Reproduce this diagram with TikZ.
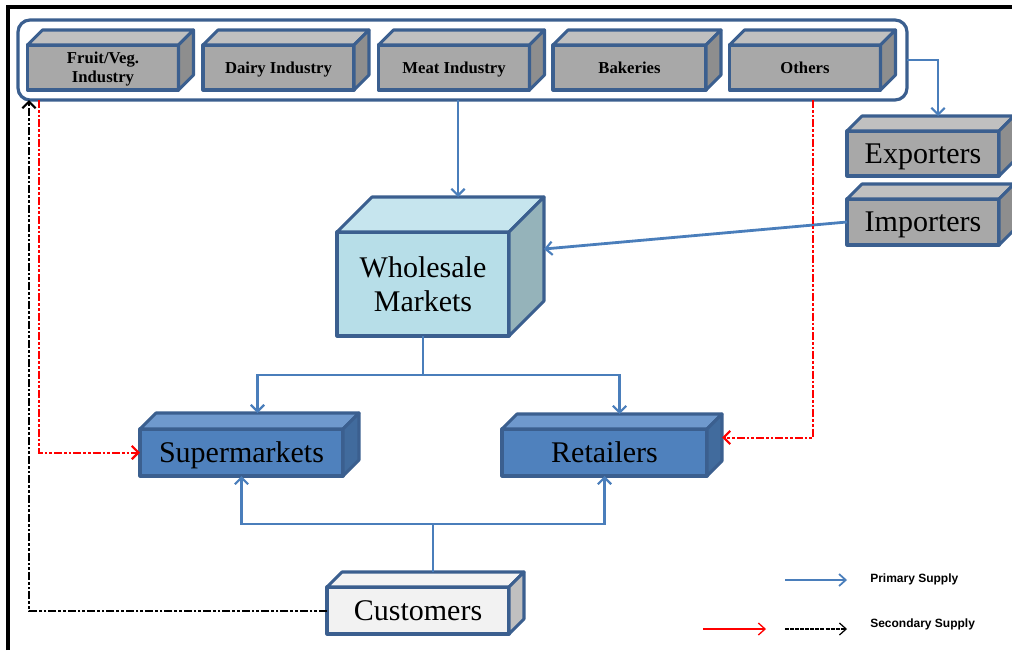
\documentclass[tikz,border=0pt]{standalone}
\usepackage{fontspec}
\setmainfont{Liberation Serif}
\newfontfamily\legfont{Liberation Sans}
\usetikzlibrary{arrows.meta,calc}
\definecolor{edge}{HTML}{3B5F8F}
\definecolor{conn}{HTML}{4A7EBB}
\definecolor{grayF}{HTML}{A8A8A8}
\definecolor{grayT}{HTML}{C0C0C0}
\definecolor{grayS}{HTML}{8E8E8E}
\definecolor{wsF}{HTML}{B7DEE8}
\definecolor{wsT}{HTML}{C6E5EE}
\definecolor{wsS}{HTML}{95B3BA}
\definecolor{blF}{HTML}{4F81BD}
\definecolor{blT}{HTML}{6F99CD}
\definecolor{blS}{HTML}{416B9D}
\definecolor{cuF}{HTML}{F2F2F2}
\definecolor{cuT}{HTML}{F4F4F4}
\definecolor{cuS}{HTML}{C0C0C0}
\tikzset{
  cube/.style={draw=edge, line width=2.3pt, inner sep=0pt, outer sep=0pt, align=center, line join=round},
  cubeedge/.style={draw=edge, line width=2.3pt, line join=round},
  small/.style={font=\fontsize{12.5}{14.25}\selectfont\bfseries},
  big/.style={font=\fontsize{22.5}{25.5}\selectfont},
  onesmall/.style={text height=8.4pt, text depth=0pt},
  onebig/.style={text height=14.9pt, text depth=0pt},
  pri/.style={draw=conn, line width=2.1pt},
  arr/.style={-{Straight Barb[length=5pt,width=10pt,line width=1.6pt]}},
  secred/.style={draw=red, line width=1.5pt, dash pattern=on 6pt off 1.5pt on 2pt off 1.5pt on 2pt off 1.5pt},
  secblk/.style={draw=black, line width=1.5pt, dash pattern=on 6pt off 1.5pt on 2pt off 1.5pt on 2pt off 1.5pt},
  legtext/.style={font=\legfont\fontsize{9}{10}\selectfont\bfseries, anchor=west, inner sep=0pt},
}
\newcommand\cubenode[8][]{%
  \node[cube,#1,fill=#2F,minimum width=#5*0.75pt,minimum height=#6*0.75pt] (#3) at (#4) {#8};
  \draw[cubeedge,fill=#2T] (#3.north west) -- ++(#7,-#7) -- ($(#3.north east)+(#7,-#7)$) -- (#3.north east) -- cycle;
  \draw[cubeedge,fill=#2S] (#3.north east) -- ++(#7,-#7) -- ($(#3.south east)+(#7,-#7)$) -- (#3.south east) -- cycle;
  \coordinate (#3-back) at ($(#3.north)+(#7,-#7)$);
  \coordinate (#3-se) at ($(#3.east)+(#7,-#7)$);
}
\begin{document}
\begin{tikzpicture}[x=0.75pt,y=-0.75pt]
\useasboundingbox (0,0) rectangle (1012,650);
% frame
\draw[line width=2.8pt] (8,650) -- (8,7) -- (1012,7);
% industry group
\node[draw=edge, line width=2.4pt, rounded corners=9pt, minimum width=889*0.75pt, minimum height=80*0.75pt, inner sep=0pt, outer sep=0pt] (ind) at (462.5,60) {};
\cubenode[small,text height=22.5pt,text depth=0pt]{gray}{F}{103,67.5}{151}{45}{15}{Fruit/Veg.\\Industry}
\cubenode[small,onesmall]{gray}{D}{278.5,67.5}{151}{45}{15}{Dairy Industry}
\cubenode[small,onesmall]{gray}{M}{454,67.5}{151}{45}{15}{Meat Industry}
\cubenode[small,onesmall]{gray}{B}{629.5,67.5}{153}{45}{15}{Bakeries}
\cubenode[small,onesmall]{gray}{O}{805,67.5}{151}{45}{15}{Others}
% exporters / importers
\cubenode[big,onebig]{gray}{Ex}{923,153.5}{152}{45}{15}{Exporters}
\cubenode[big,onebig]{gray}{Im}{923,222}{152}{46}{15}{Importers}
% wholesale
\cubenode[big]{ws}{W}{423,284}{172}{104}{35}{Wholesale\\Markets}
% supermarkets, retailers
\cubenode[big,onebig]{bl}{S}{241.5,452.5}{203}{47}{16}{Supermarkets}
\cubenode[big,onebig]{bl}{R}{604.5,452.5}{205}{47}{15}{Retailers}
% customers
\cubenode[big,onebig]{cu}{C}{418,610.5}{182}{47}{15}{Customers}
% primary supply connectors
\draw[pri,arr] (ind.south -| W-back) -- (W-back);
\draw[pri,arr] (ind.east) -| (Ex-back);
\draw[pri,arr] (Im.west) -- (W-se);
\draw[pri] (W.south) -- ++(0,39) coordinate (wj);
\draw[pri,arr] (wj) -| (S-back);
\draw[pri,arr] (wj) -| (R-back);
\draw[pri] (C-back) -- ++(0,-48) coordinate (cj);
\draw[pri,arr] (cj) -| (S.south);
\draw[pri,arr] (cj) -| (R.south);
% secondary supply connectors
\coordinate (r1) at (39,0);
\coordinate (r2) at (813,0);
\coordinate (k1) at (29,0);
\draw[secred,arr] (r1 |- ind.south) |- (S.west);
\draw[secred,arr] (r2 |- ind.south) |- (R-se);
\draw[secblk,arr] (C.west) -| (k1 |- ind.south);
% legend
\coordinate (lp1) at (785,580);
\coordinate (lp2) at (847,580);
\coordinate (lr1) at (703,629);
\coordinate (lr2) at (766,629);
\coordinate (lb1) at (785,629);
\coordinate (lb2) at (847,629);
\draw[pri,-{Straight Barb[length=5pt,width=9pt,line width=1.3pt]}] (lp1) -- (lp2);
\draw[red,line width=1pt,-{Straight Barb[length=5pt,width=9pt,line width=1pt]}] (lr1) -- (lr2);
\draw[black,line width=0.9pt,dash pattern=on 3pt off 0.8pt,-{Straight Barb[length=5pt,width=9pt,line width=0.9pt]}] (lb1) -- (lb2);
\node[legtext] (lpt) at (870,579) {Primary Supply};
\node[legtext] (lst) at (870,624) {Secondary Supply};
\end{tikzpicture}
\end{document}
